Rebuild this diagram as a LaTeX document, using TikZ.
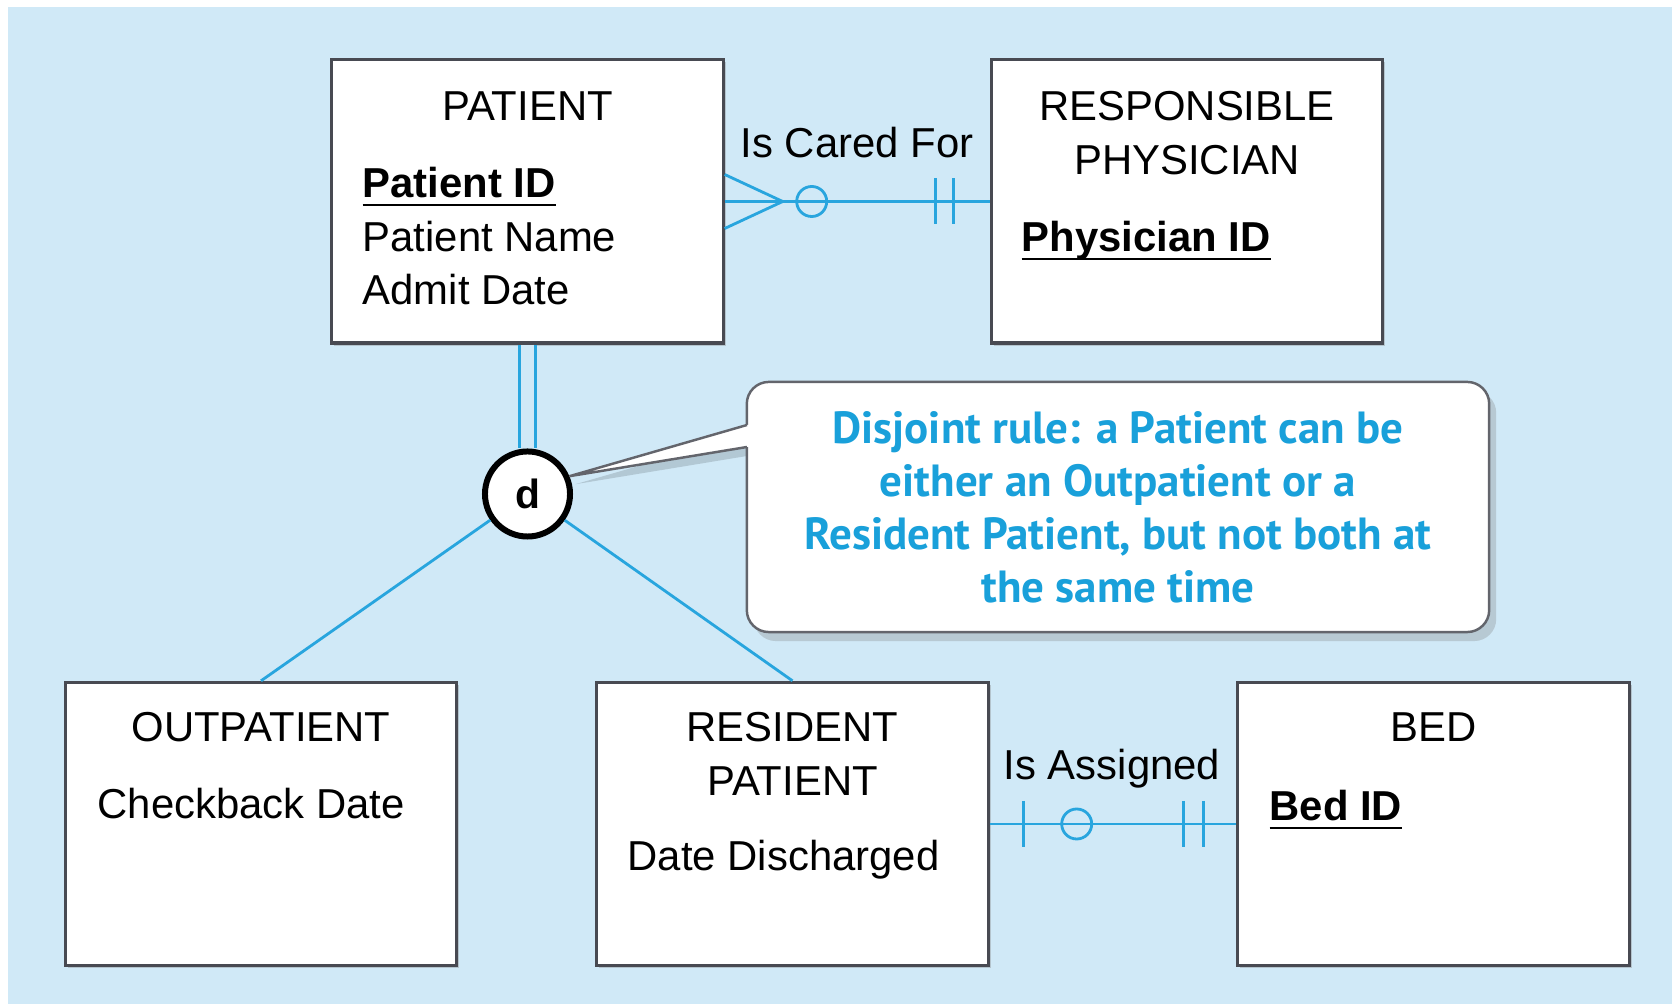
\documentclass[tikz,border=0pt]{standalone}
\usepackage{fontspec}
\setmainfont{Liberation Sans}
\newfontfamily\notefont{PT Sans}
\usetikzlibrary{shadows}
\definecolor{bgblue}{RGB}{208,233,247}
\definecolor{relblue}{RGB}{40,165,222}
\definecolor{boxgray}{RGB}{72,74,82}
\definecolor{notecyan}{RGB}{25,160,218}
\newcommand{\pkey}[1]{\sbox0{\bfseries #1}\usebox0\llap{\rule[-2.35pt]{\wd0}{0.7pt}}}
\begin{document}
\begin{tikzpicture}[x=0.01cm,y=-0.01cm,
  font=\fontsize{11.9}{15.3}\selectfont,
  entity/.style={draw=boxgray,line width=0.9pt,fill=white,
    minimum width=3.91cm,minimum height=2.83cm,inner sep=0pt,
    drop shadow={shadow xshift=0.025cm,shadow yshift=-0.025cm,opacity=0.35}},
  title/.style={anchor=north,align=center,inner sep=0pt},
  attr/.style={anchor=base west,inner sep=0pt},
  rellabel/.style={anchor=base,inner sep=0pt,font=\fontsize{11.9}{14}\selectfont},
  rel/.style={draw=relblue,line width=0.8pt},
  subtype/.style={circle,draw=black,line width=1.7pt,fill=white,
    minimum size=0.85cm,inner sep=0pt,font=\fontsize{11.6}{14}\selectfont\bfseries},
  note/.style={rounded corners=0.22cm,draw=boxgray!85,line width=0.7pt,fill=white,
    minimum width=7.42cm,minimum height=2.50cm,align=center,text=notecyan,
    font=\notefont\bfseries\fontsize{12.8}{15.1}\selectfont,
    drop shadow={shadow xshift=0.07cm,shadow yshift=-0.09cm,opacity=0.3}},
  noteline/.style={draw=boxgray!85,line width=0.7pt}]
\useasboundingbox (0,0) rectangle (1672,1004);
\fill[white] (0,0) rectangle (1672,1004);
\fill[bgblue] (8,7) rectangle (1672,1004);
\node[entity] (patient) at (527.5,201.5) {};
\node[entity] (physician) at (1187,201.5) {};
\node[entity] (outpat) at (261,824) {};
\node[entity] (resident) at (792.5,824) {};
\node[entity] (bed) at (1433.5,824) {};
\node[title] (patientT) at (527.5,91) {PATIENT};
\node[title] (physicianT) at (1187,91) {RESPONSIBLE\\PHYSICIAN};
\node[title] (outpatT) at (261,712) {OUTPATIENT};
\node[title] (residentT) at (792.5,712) {RESIDENT\\PATIENT};
\node[title] (bedT) at (1433.5,712) {BED};
\node[attr] (pid) at (362,198) {\pkey{Patient ID}};
\node[attr] (pname) at (362,252) {Patient Name};
\node[attr] (padmit) at (362,305) {Admit Date};
\node[attr] (physid) at (1021,252) {\pkey{Physician ID}};
\node[attr] (checkback) at (97,819) {Checkback Date};
\node[attr] (discharged) at (627,871) {Date Discharged};
\node[attr] (bedid) at (1269,821) {\pkey{Bed ID}};
\draw[rel] (patient.east) -- (physician.west);
\draw[rel] (patient.east) ++(0,-27) -- ++(58,27) -- ++(-58,27);
\draw[rel] (patient.east) ++(87,0) circle (0.15cm);
\draw[rel] (physician.west) ++(-54,-23) -- ++(0,46) ++(18,-46) -- ++(0,46);
\node[rellabel] (caredfor) at (857,158) {Is Cared For};
\draw[rel] (resident.east) -- (bed.west);
\draw[rel] (resident.east) ++(34,-23) -- ++(0,46);
\draw[rel] (resident.east) ++(87,0) circle (0.15cm);
\draw[rel] (bed.west) ++(-53,-23) -- ++(0,46) ++(20,-46) -- ++(0,46);
\node[rellabel] (assigned) at (1112,780) {Is Assigned};
\node[subtype] (disjoint) at (527.5,494) {d};
\draw[rel,double=bgblue,double distance=0.13cm] (patient.south) -- (disjoint);
\draw[rel] (disjoint) -- (outpat.north);
\draw[rel] (disjoint) -- (resident.north);
\coordinate (wedgetop) at (747,425);
\coordinate (wedgebot) at (747,447);
\fill[black,opacity=0.14] ([shift={(6,8)}]wedgetop) -- ([shift={(6,8)}]disjoint.23)
  -- ([shift={(6,8)}]wedgebot) -- cycle;
\node[note] (rule) at (1118,507) {Disjoint rule: a Patient can be\\either an Outpatient or a\\Resident Patient, but not both at\\the same time};
\fill[white] (wedgetop) -- (disjoint.23) -- (wedgebot) -- ++(5,0)
  -- ([xshift=0.05cm]wedgetop) -- cycle;
\draw[noteline] (wedgetop) -- (disjoint.23) -- (wedgebot);
\end{tikzpicture}
\end{document}
